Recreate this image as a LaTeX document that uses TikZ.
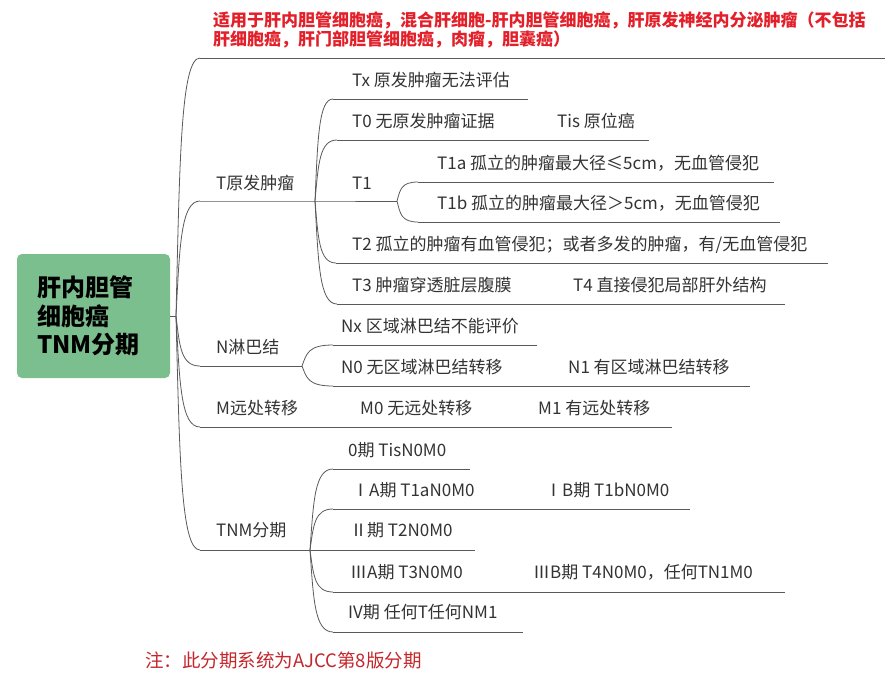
\documentclass[tikz,border=0pt]{standalone}
\usepackage{fontspec}
\setmainfont{Noto Sans CJK SC}
\usetikzlibrary{calc}
\definecolor{boxgreen}{HTML}{7CBF8E}
\definecolor{topred}{HTML}{E3202A}
\definecolor{notered}{HTML}{C4262C}
\definecolor{txt}{HTML}{333333}
\definecolor{ln}{HTML}{5A5A5A}
\newcommand\mmlink[2]{\draw[link] let \p1=(#1), \p2=(#2) in (\p1) .. controls ({\x1+0.15*(\x2-\x1)},{\y1+0.6*(\y2-\y1)}) and ({\x1+0.2*(\x2-\x1)},{\y2}) .. (\p2);}
\begin{document}
\begin{tikzpicture}[x=1pt,y=-1pt,
  lbl/.style={anchor=west,inner sep=0pt,text=txt,text height=14.5pt,text depth=1.5pt,font=\fontsize{17}{20}\selectfont},
  redlbl/.style={anchor=west,inner sep=0pt,text=topred,text height=14.5pt,text depth=1.5pt,font=\fontsize{17}{20}\selectfont\bfseries},
  notelbl/.style={anchor=west,inner sep=0pt,text=notered,text height=15pt,text depth=1.5pt,font=\fontsize{18.5}{21}\selectfont},
  rootbox/.style={fill=boxgreen,rounded corners=5pt,minimum width=153pt,minimum height=124pt,inner xsep=20pt,text width=113pt,align=left,font=\fontsize{24}{28.5}\selectfont\bfseries,text=black},
  link/.style={draw=ln,line width=0.8pt},
  uline/.style={draw=ln,line width=0.8pt}]
\useasboundingbox[fill=white] (0,0) rectangle (893,689);

% root
\node[rootbox] (root) at (93.5,316) {肝内胆管\\细胞癌\\TNM分期};
\coordinate (hub) at (176,316);
\draw[link] (root.east) -- (hub);

% level-1 line coordinates
\coordinate (L0s) at (200,58);  \coordinate (L0e) at (885,58);
\coordinate (Ts) at (200,201);  \coordinate (Te) at (315,201);
\coordinate (T1e) at (397,201);
\coordinate (Ns) at (200,366);  \coordinate (Ne) at (302,366);
\coordinate (Ms) at (200,427);  \coordinate (Me) at (672,427);
\coordinate (Ss) at (200,550);  \coordinate (Se) at (310,550);
\coordinate (S2e) at (475,550);

% T children
\coordinate (Txs) at (333,99);   \coordinate (Txe) at (528,99);
\coordinate (T0s) at (337,140);  \coordinate (T0e) at (649,140);
\coordinate (T2s) at (336,263);  \coordinate (T2e) at (828,263);
\coordinate (T3s) at (337,304);  \coordinate (T3e) at (785,304);
\coordinate (T1as) at (418,182); \coordinate (T1ae) at (774,182);
\coordinate (T1bs) at (418,222); \coordinate (T1be) at (780,222);
% N children
\coordinate (Nxs) at (333,345);  \coordinate (Nxe) at (537,345);
\coordinate (N0s) at (333,386);  \coordinate (N0e) at (750,386);
% stage children
\coordinate (S0s) at (333,469);  \coordinate (S0e) at (470,469);
\coordinate (S1s) at (333,509);  \coordinate (S1e) at (690,509);
\coordinate (S3s) at (333,592);  \coordinate (S3e) at (785,592);
\coordinate (S4s) at (333,632);  \coordinate (S4e) at (523,632);

% underlines
\draw[uline] (L0s) -- (L0e);
\draw[uline] (Ts) -- (Te) -- (T1e);
\draw[uline] (Ns) -- (Ne);
\draw[uline] (Ms) -- (Me);
\draw[uline] (Ss) -- (Se) -- (S2e);
\draw[uline] (Txs) -- (Txe);
\draw[uline] (T0s) -- (T0e);
\draw[uline] (T2s) -- (T2e);
\draw[uline] (T3s) -- (T3e);
\draw[uline] (T1as) -- (T1ae);
\draw[uline] (T1bs) -- (T1be);
\draw[uline] (Nxs) -- (Nxe);
\draw[uline] (N0s) -- (N0e);
\draw[uline] (S0s) -- (S0e);
\draw[uline] (S1s) -- (S1e);
\draw[uline] (S3s) -- (S3e);
\draw[uline] (S4s) -- (S4e);

% curves
\mmlink{hub}{L0s}
\mmlink{hub}{Ts}
\mmlink{hub}{Ns}
\mmlink{hub}{Ms}
\mmlink{hub}{Ss}
\mmlink{Te}{Txs}
\mmlink{Te}{T0s}
\mmlink{Te}{T2s}
\mmlink{Te}{T3s}
\mmlink{T1e}{T1as}
\mmlink{T1e}{T1bs}
\mmlink{Ne}{Nxs}
\mmlink{Ne}{N0s}
\mmlink{Se}{S0s}
\mmlink{Se}{S1s}
\mmlink{Se}{S3s}
\mmlink{Se}{S4s}

% texts
\node[redlbl] (red1) at (213,20) {适用于肝内胆管细胞癌，混合肝细胞-肝内胆管细胞癌，肝原发神经内分泌肿瘤（不包括};
\node[redlbl] (red2) at (213,39) {肝细胞癌，肝门部胆管细胞癌，肉瘤，胆囊癌）};

\node[lbl] (tT) at (216,183) {T原发肿瘤};
\node[lbl] (tx) at (352,80) {Tx 原发肿瘤无法评估};
\node[lbl] (t0) at (352,121) {T0 无原发肿瘤证据};
\node[lbl] (tis) at (557,121) {Tis 原位癌};
\node[lbl] (t1) at (352,183) {T1};
\node[lbl] (t1a) at (437,163) {T1a 孤立的肿瘤最大径≤5cm，无血管侵犯};
\node[lbl] (t1b) at (437,203) {T1b 孤立的肿瘤最大径＞5cm，无血管侵犯};
\node[lbl] (t2) at (352,244) {T2 孤立的肿瘤有血管侵犯；或者多发的肿瘤，有/无血管侵犯};
\node[lbl] (t3) at (352,285) {T3 肿瘤穿透脏层腹膜};
\node[lbl] (t4) at (573,285) {T4 直接侵犯局部肝外结构};

\node[lbl] (nN) at (216,347) {N淋巴结};
\node[lbl] (nx) at (341,326) {Nx 区域淋巴结不能评价};
\node[lbl] (n0) at (341,367) {N0 无区域淋巴结转移};
\node[lbl] (n1) at (568,367) {N1 有区域淋巴结转移};

\node[lbl] (mM) at (216,408) {M远处转移};
\node[lbl] (m0) at (360,408) {M0 无远处转移};
\node[lbl] (m1) at (538,408) {M1 有远处转移};

\node[lbl] (sS) at (216,530) {TNM分期};
\node[lbl] (s0) at (348,450) {0期 TisN0M0};
\node[lbl] (s1a) at (352,490) {ⅠA期 T1aN0M0};
\node[lbl] (s1b) at (545,490) {ⅠB期 T1bN0M0};
\node[lbl] (s2) at (350,530) {Ⅱ期 T2N0M0};
\node[lbl] (s3a) at (350,572) {ⅢA期 T3N0M0};
\node[lbl] (s3b) at (533,572) {ⅢB期 T4N0M0，任何TN1M0};
\node[lbl] (s4) at (348,612) {IV期 任何T任何NM1};

\node[notelbl] (note) at (145,661) {注：此分期系统为AJCC第8版分期};
\end{tikzpicture}
\end{document}
